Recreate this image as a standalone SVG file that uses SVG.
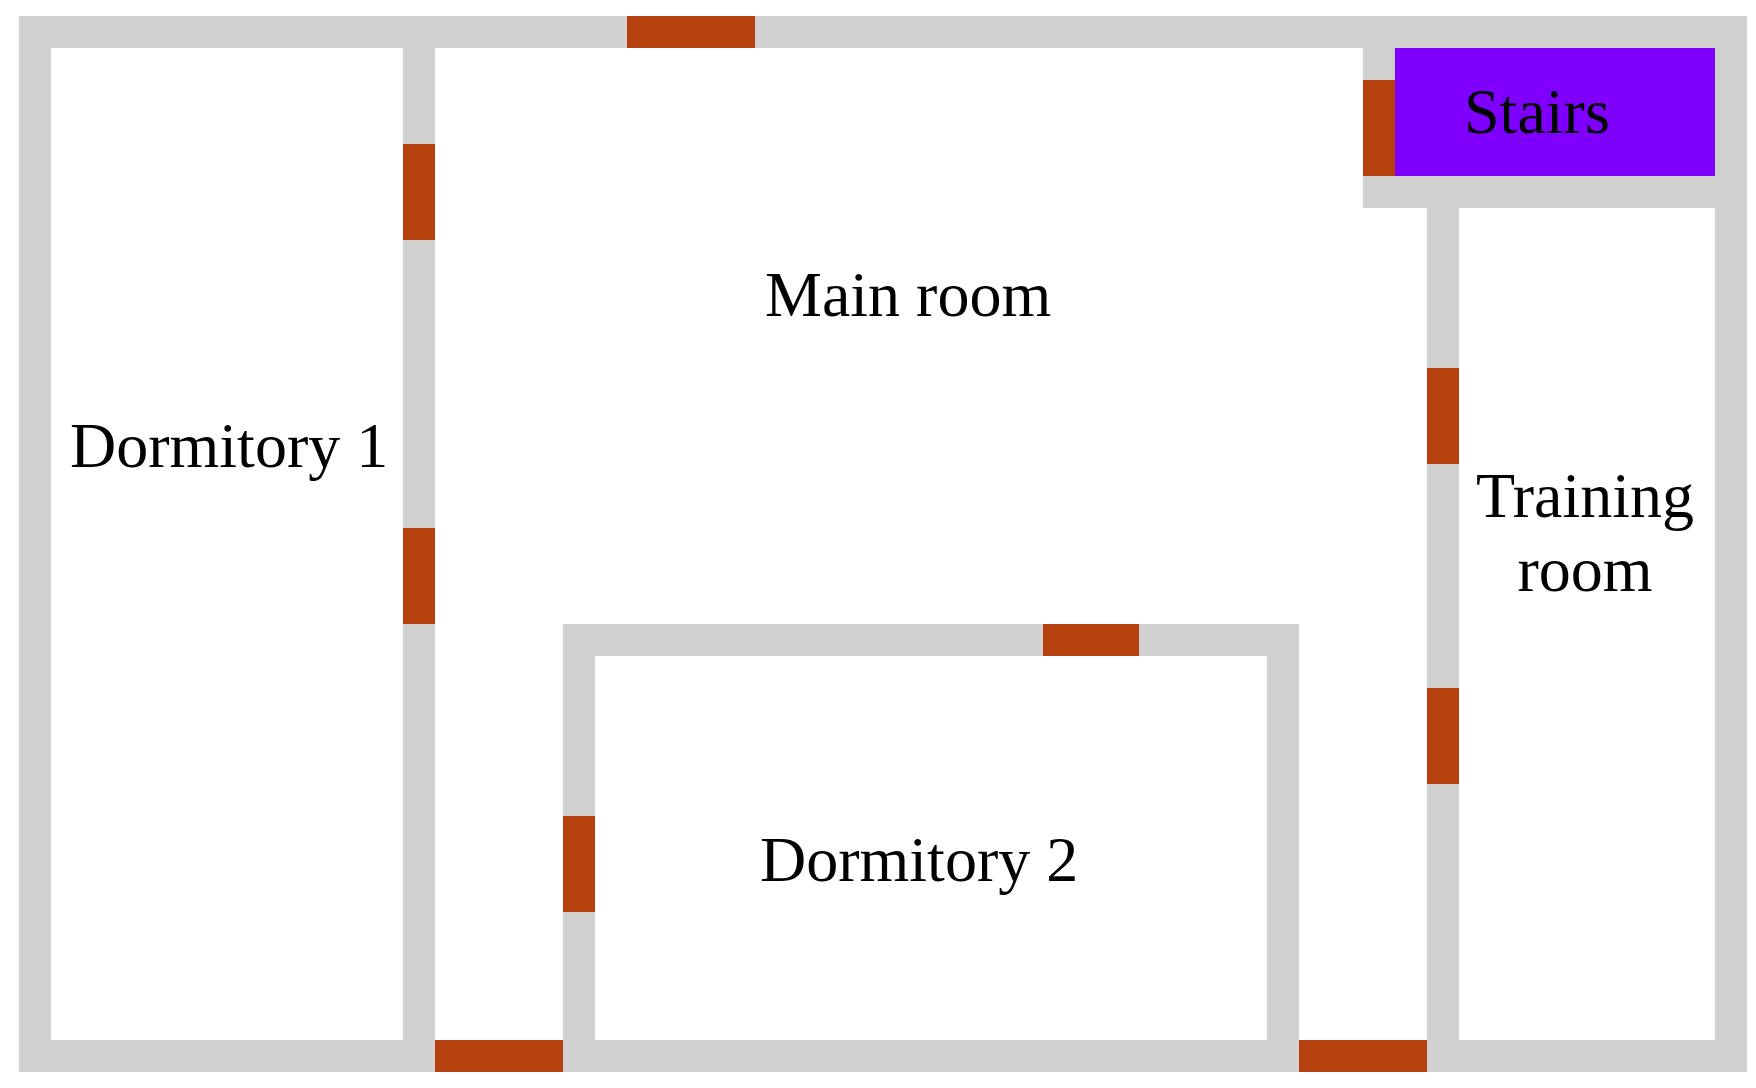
<svg xmlns="http://www.w3.org/2000/svg" width="1756" height="1088" viewBox="0 0 1756 1088">
<style>
.wall{fill:#d0d0d0}
.door{fill:#b7410e}
.stairs{fill:#8000ff}
text{font-family:"Liberation Serif","Times New Roman",serif;font-size:64px;fill:#000}
</style>
<rect width="1756" height="1088" fill="#fff"/>
<g id="walls">
<rect class="wall" x="19" y="16" width="1728" height="32"/>
<rect class="wall" x="19" y="1040" width="1728" height="32"/>
<rect class="wall" x="19" y="16" width="32" height="1056"/>
<rect class="wall" x="1715" y="16" width="32" height="1056"/>
<rect class="wall" x="403" y="16" width="32" height="1056"/>
<rect class="wall" x="563" y="624" width="736" height="32"/>
<rect class="wall" x="563" y="624" width="32" height="448"/>
<rect class="wall" x="1267" y="624" width="32" height="448"/>
<rect class="wall" x="1363" y="16" width="32" height="192"/>
<rect class="wall" x="1363" y="176" width="384" height="32"/>
<rect class="wall" x="1427" y="176" width="32" height="896"/>
</g>
<g id="stairs">
<rect class="stairs" x="1395" y="48" width="320" height="128"/>
<text x="1464" y="133">Stairs</text>
</g>
<g id="main-room"><text x="765" y="316">Main room</text></g>
<g id="dormitory-1"><text x="70" y="467">Dormitory 1</text></g>
<g id="dormitory-2"><text x="760" y="881">Dormitory 2</text></g>
<g id="training-room">
<text x="1585" y="517" text-anchor="middle">Training</text>
<text x="1585" y="591" text-anchor="middle">room</text>
</g>
<g id="doors">
<rect class="door" x="627" y="16" width="128" height="32"/>
<rect class="door" x="403" y="144" width="32" height="96"/>
<rect class="door" x="403" y="528" width="32" height="96"/>
<rect class="door" x="1363" y="80" width="32" height="96"/>
<rect class="door" x="1427" y="368" width="32" height="96"/>
<rect class="door" x="1427" y="688" width="32" height="96"/>
<rect class="door" x="1043" y="624" width="96" height="32"/>
<rect class="door" x="563" y="816" width="32" height="96"/>
<rect class="door" x="435" y="1040" width="128" height="32"/>
<rect class="door" x="1299" y="1040" width="128" height="32"/>
</g>
</svg>
